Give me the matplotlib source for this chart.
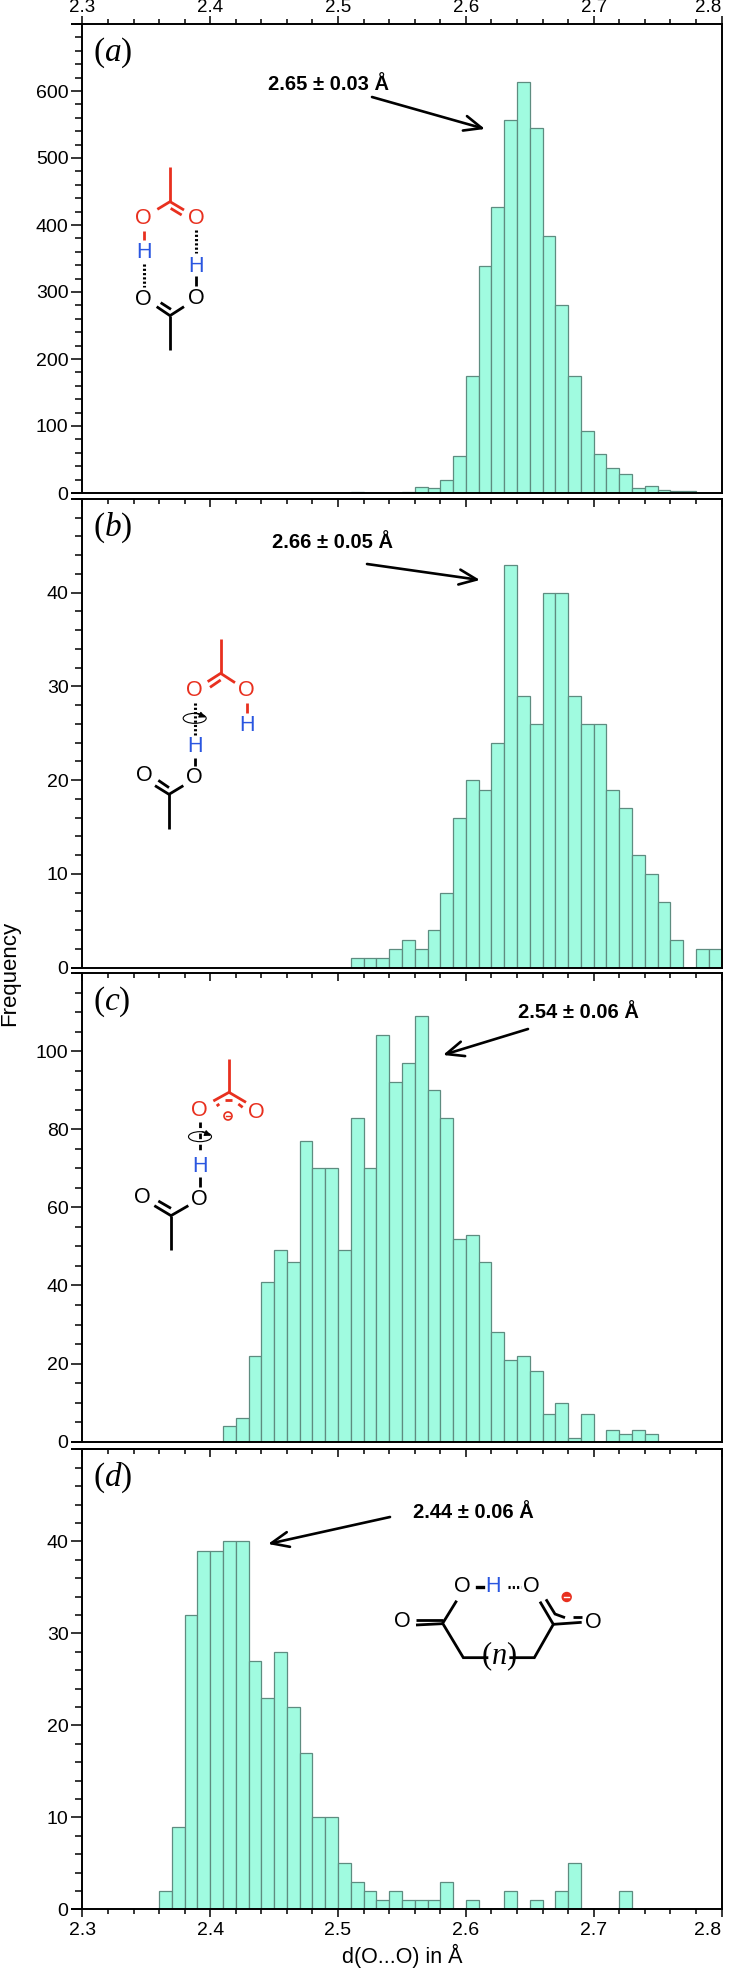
import matplotlib
matplotlib.use("Agg")
import matplotlib.pyplot as plt
import numpy as np
from matplotlib.patches import Ellipse, Circle

plt.rcParams["font.family"] = ["Liberation Sans", "DejaVu Sans"]
plt.rcParams["mathtext.fontset"] = "custom"
plt.rcParams["mathtext.rm"] = "Liberation Serif"
plt.rcParams["mathtext.it"] = "Liberation Serif:italic"

W, H = 734, 1978

# histogram counts, bin start -> count (bins are 0.01 wide)
bins_a = [2.51, 2.55, 2.56, 2.57, 2.58, 2.59, 2.60, 2.61, 2.62, 2.63, 2.64, 2.65,
          2.66, 2.67, 2.68, 2.69, 2.70, 2.71, 2.72, 2.73, 2.74, 2.75, 2.76, 2.77]
counts_a = [1, 2, 9, 7, 19, 55, 175, 339, 427, 557, 613, 545,
            384, 281, 174, 93, 58, 37, 28, 8, 10, 5, 3, 3]

bins_b = [2.51, 2.52, 2.53, 2.54, 2.55, 2.56, 2.57, 2.58, 2.59, 2.60, 2.61, 2.62, 2.63, 2.64,
          2.65, 2.66, 2.67, 2.68, 2.69, 2.70, 2.71, 2.72, 2.73, 2.74, 2.75, 2.76, 2.78, 2.79]
counts_b = [1, 1, 1, 2, 3, 2, 4, 8, 16, 20, 19, 24, 43, 29,
            26, 40, 40, 29, 26, 26, 19, 17, 12, 10, 7, 3, 2, 2]

bins_c = [2.41, 2.42, 2.43, 2.44, 2.45, 2.46, 2.47, 2.48, 2.49, 2.50, 2.51, 2.52, 2.53, 2.54, 2.55, 2.56, 2.57,
          2.58, 2.59, 2.60, 2.61, 2.62, 2.63, 2.64, 2.65, 2.66, 2.67, 2.68, 2.69, 2.71, 2.72, 2.73, 2.74]
counts_c = [4, 6, 22, 41, 49, 46, 77, 70, 70, 49, 83, 70, 104, 92, 97, 109, 90,
            83, 52, 53, 46, 28, 21, 22, 18, 7, 10, 1, 7, 3, 2, 3, 2]

bins_d = [2.36, 2.37, 2.38, 2.39, 2.40, 2.41, 2.42, 2.43, 2.44, 2.45, 2.46, 2.47, 2.48, 2.49, 2.50, 2.51,
          2.52, 2.53, 2.54, 2.55, 2.56, 2.57, 2.58, 2.60, 2.63, 2.65, 2.67, 2.68, 2.72]
counts_d = [2, 9, 32, 39, 39, 40, 40, 27, 23, 28, 22, 17, 10, 10, 5, 3,
            2, 1, 2, 1, 1, 1, 3, 1, 2, 1, 2, 5, 2]

x_ticks = [2.3, 2.4, 2.5, 2.6, 2.7, 2.8]
x_labels = ["2.3", "2.4", "2.5", "2.6", "2.7", "2.8"]

FILL = "#a0fbe0"
EDGE = "#5e8c80"
RED = "#e8301f"
BLUE = "#2a56e0"
BLACK = "#000000"

fig = plt.figure(figsize=(W / 100, H / 100), dpi=100)


def make_panel(top, bottom, ymax, major, minor, bins, counts, label):
    left, right = 82.4, 721.5
    ax = fig.add_axes([left / W, 1 - bottom / H, (right - left) / W, (bottom - top) / H])
    ax.bar(bins, counts, width=0.01, align="edge", color=FILL, edgecolor=EDGE, linewidth=0.9)
    ax.set_xlim(2.3, 2.8)
    ax.set_ylim(0, ymax)
    ax.set_yticks(np.arange(0, ymax, major))
    ax.set_yticks(np.arange(0, ymax + 0.1, minor), minor=True)
    ax.set_xticks(x_ticks)
    ax.set_xticks(np.arange(2.3, 2.8, 0.02), minor=True)
    ax.tick_params(axis="y", which="major", length=8, width=1.1, labelsize=14, pad=2)
    ax.tick_params(axis="y", which="minor", length=4.7, width=1.1)
    for s in ax.spines.values():
        s.set_linewidth(1.4)
    ax.text(0.016, 0.975, label, transform=ax.transAxes, fontsize=24, va="top", ha="left")
    return ax


ax_a = make_panel(24, 493, 700, 100, 20, bins_a, counts_a, r"$(\mathit{a})$")
ax_b = make_panel(499, 967.7, 50, 10, 2, bins_b, counts_b, r"$(\mathit{b})$")
ax_c = make_panel(973, 1441.7, 120, 20, 5, bins_c, counts_c, r"$(\mathit{c})$")
ax_d = make_panel(1449.3, 1909.3, 50, 10, 2, bins_d, counts_d, r"$(\mathit{d})$")

# a: labelled axis on top, ticks outward
ax_a.xaxis.tick_top()
ax_a.set_xticklabels(x_labels, fontsize=13.5, ha="center")
ax_a.tick_params(axis="x", which="major", length=5.5, width=1.1, pad=0)
ax_a.tick_params(axis="x", which="minor", length=3.6, width=1.1)
# the last label must not run off the right edge
ax_a.get_xticklabels()[-1].set_ha("right")
ax_a.get_xticklabels()[-1].set_x(2.8)

# b, c: ticks on the top edge pointing in, nothing underneath
for ax in (ax_b, ax_c):
    ax.xaxis.tick_top()
    ax.tick_params(axis="x", which="both", direction="in", labeltop=False)
    ax.tick_params(axis="x", which="major", length=5.5, width=1.1)
    ax.tick_params(axis="x", which="minor", length=3.6, width=1.1)

# d: labels below with ticks out, plus inward ticks along the top
ax_d.set_xticklabels(x_labels, fontsize=14)
ax_d.get_xticklabels()[-1].set_ha("right")
ax_d.tick_params(axis="x", which="major", length=6, width=1.1, pad=3)
ax_d.tick_params(axis="x", which="minor", length=3.6, width=1.1)
ax_d.set_xlabel("d(O...O) in Å", fontsize=15.5, labelpad=4)
top_d = ax_d.secondary_xaxis("top")
top_d.set_xticks(x_ticks)
top_d.set_xticks(np.arange(2.3, 2.8, 0.02), minor=True)
top_d.tick_params(axis="x", which="both", direction="in", labeltop=False, width=1.1)
top_d.tick_params(axis="x", which="major", length=5.5)
top_d.tick_params(axis="x", which="minor", length=3.6)
top_d.spines["top"].set_linewidth(1.4)

# overlay in image pixels for the notes and the molecule sketches
ov = fig.add_axes([0, 0, 1, 1])
ov.set_xlim(0, W)
ov.set_ylim(H, 0)
ov.axis("off")

# top and bottom edges reach past the y axis
for y in (24, 493, 499, 967.7, 973, 1441.7, 1449.3, 1909.3):
    ov.plot([71, 82.4], [y, y], color="k", lw=1.4, solid_capstyle="butt")

ov.text(10, 973, "Frequency", rotation=90, fontsize=16, ha="center", va="center")

notes = [("2.65 ± 0.03 Å", 328, 84, (372, 97), (485, 129)),
         ("2.66 ± 0.05 Å", 332, 543, (367, 564), (480, 580)),
         ("2.54 ± 0.06 Å", 578, 1013, (528, 1029), (443, 1055)),
         ("2.44 ± 0.06 Å", 473, 1512, (390, 1517), (268, 1544))]
for txt, tx, ty, start, end in notes:
    ov.text(tx, ty, txt, fontsize=14.5, fontweight="bold", ha="center", va="center")
    ov.annotate("", xy=end, xytext=start,
                arrowprops=dict(arrowstyle="->,head_length=0.7,head_width=0.3", color="k", lw=1.9,
                                shrinkA=0, shrinkB=0, mutation_scale=18))


def sketch(x0, y0, segs=(), dots=(), dashes=(), atoms=()):
    def p(x, y):
        return x0 + x / 3, y0 + y / 3
    for pts, col in segs:
        xy = np.array([p(*q) for q in pts])
        ov.plot(xy[:, 0], xy[:, 1], color=col, lw=2.0, solid_capstyle="butt", solid_joinstyle="miter")
    for a, b in dots:
        xy = np.array([p(*a), p(*b)])
        ov.plot(xy[:, 0], xy[:, 1], color="k", lw=2.2, linestyle=(0, (0.7, 0.7)))
    for a, b in dashes:
        xy = np.array([p(*a), p(*b)])
        ov.plot(xy[:, 0], xy[:, 1], color="k", lw=2.0, linestyle=(0, (2.0, 2.0)))
    for s, x, y, col in atoms:
        px, py = p(x, y)
        ov.text(px, py, s, color=col, fontsize=15.5, ha="center", va="center")


def spin(cx, cy):
    ov.add_patch(Ellipse((cx, cy), 23, 10, fill=False, ec="k", lw=0.8, zorder=3))
    ov.annotate("", xy=(cx + 11, cy - 1), xytext=(cx + 2, cy - 5),
                arrowprops=dict(arrowstyle="-|>", color="k", lw=0.9, shrinkA=0, shrinkB=0, mutation_scale=9))


# (a)
sketch(100, 150,
       segs=[([(210, 50), (210, 155)], RED), ([(172, 178), (210, 155), (252, 180)], RED),
             ([(212, 175), (245, 195)], RED), ([(131, 243), (131, 270)], RED),
             ([(288, 378), (288, 408)], BLACK),
             ([(170, 470), (210, 497), (252, 470)], BLACK), ([(182, 458), (213, 478)], BLACK),
             ([(210, 497), (210, 600)], BLACK)],
       dots=[((131, 343), (131, 410)), ((288, 240), (288, 310))],
       atoms=[("O", 131, 207, RED), ("O", 288, 205, RED), ("H", 131, 308, BLUE), ("H", 288, 348, BLUE),
              ("O", 131, 448, BLACK), ("O", 288, 447, BLACK)])

# (b)
sketch(120, 610,
       segs=[([(302, 88), (302, 190)], RED), ([(263, 215), (302, 190), (345, 218)], RED),
             ([(270, 232), (302, 210)], RED), ([(380, 280), (380, 310)], RED),
             ([(224, 445), (224, 467)], BLACK),
             ([(105, 527), (147, 553), (190, 527)], BLACK), ([(115, 511), (147, 533)], BLACK),
             ([(147, 553), (147, 658)], BLACK)],
       dots=[((224, 278), (224, 375))],
       atoms=[("O", 222, 243, RED), ("O", 380, 243, RED), ("H", 380, 347, BLUE), ("H", 224, 410, BLUE),
              ("O", 224, 503, BLACK), ("O", 72, 497, BLACK)])
spin(120 + 224 / 3, 610 + 325 / 3)

# (c)
sketch(120, 1040,
       segs=[([(327, 57), (327, 157)], RED), ([(280, 183), (327, 157), (378, 187)], RED),
             ([(240, 412), (240, 442)], BLACK),
             ([(103, 497), (153, 527), (205, 497)], BLACK), ([(115, 483), (153, 505)], BLACK),
             ([(153, 527), (153, 630)], BLACK),
             ([(290, 198), (298, 192)], RED), ([(315, 180), (337, 180)], RED), ([(355, 192), (368, 202)], RED)],
       dashes=[((240, 245), (240, 345))],
       atoms=[("O", 238, 210, RED), ("O", 410, 217, RED), ("H", 240, 380, BLUE),
              ("O", 238, 478, BLACK), ("O", 68, 472, BLACK)])
spin(120 + 240 / 3, 1040 + 290 / 3)
ov.add_patch(Circle((120 + 324 / 3, 1040 + 228 / 3), 4, fill=False, ec=RED, lw=1.2))
ov.plot([120 + 324 / 3 - 2, 120 + 324 / 3 + 2], [1116, 1116], color=RED, lw=1)

# (d)
sketch(390, 1590,
       segs=[([(78, 90), (158, 90)], BLACK), ([(78, 105), (158, 101)], BLACK),
             ([(200, 32), (158, 100), (220, 203), (295, 203)], BLACK),
             ([(358, 203), (433, 203), (490, 103), (450, 35)], BLACK),
             ([(490, 103), (575, 97)], BLACK),
             ([(468, 28), (495, 72), (525, 83)], BLACK), ([(550, 80), (575, 80)], BLACK)],
       atoms=[("O", 38, 95, BLACK), ("O", 610, 98, BLACK)])
ov.plot([476.6, 483], [1586.7, 1586.7], color="k", lw=2.4)
ov.plot([508, 521], [1586.7, 1586.7], color="k", lw=2.2, linestyle=(0, (0.7, 0.7)))
for s, x, col in (("O", 462.5, BLACK), ("H", 493, BLUE), ("O", 531, BLACK)):
    ov.text(x, 1587, s, color=col, fontsize=15.5, ha="center", va="center")
ov.add_patch(Circle((566.7, 1597), 4.5, color=RED, ec=RED))
ov.plot([564.2, 569.2], [1597, 1597], color="white", lw=1)
ov.text(499, 1656, r"$(\mathit{n})$", fontsize=22, ha="center", va="center")

fig.savefig("out.png", dpi=100)
